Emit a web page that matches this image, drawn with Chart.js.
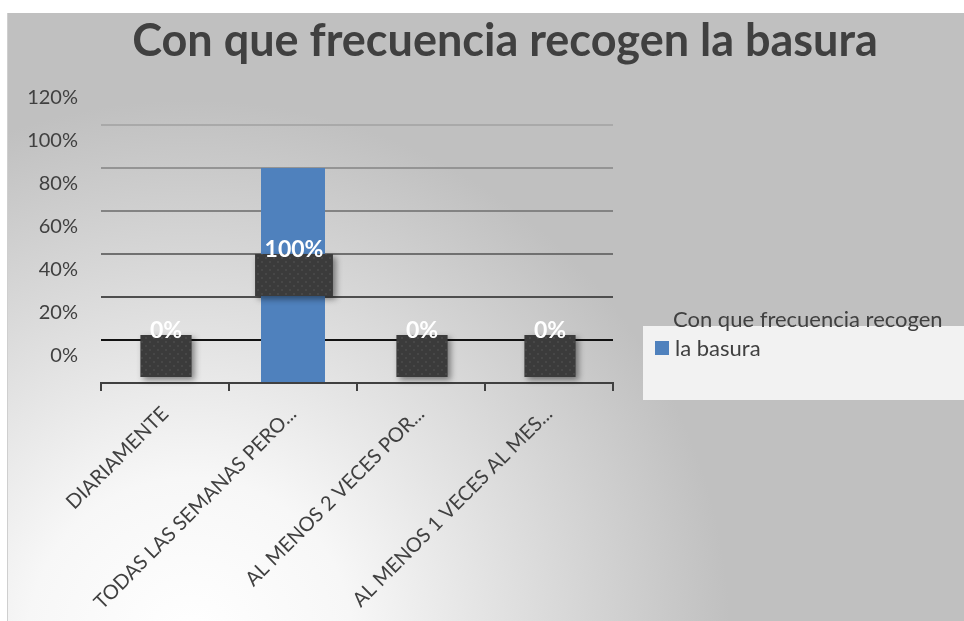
<!DOCTYPE html>
<html lang="es">
<head>
<meta charset="utf-8">
<title>Con que frecuencia recogen la basura</title>
<script src="https://cdn.jsdelivr.net/npm/chart.js@4.4.1/dist/chart.umd.min.js"></script>
<style>
  html, body { margin: 0; padding: 0; background: #fff; }
  canvas { display: block; }
</style>
</head>
<body>
<canvas id="graficoBasura" width="964" height="621"></canvas>
<script>
// Resultados de la encuesta
const categorias = ['DIARIAMENTE', 'TODAS LAS SEMANAS PERO...', 'AL MENOS 2 VECES POR...', 'AL MENOS 1 VECES AL MES...'];
const porcentajes = [0, 100, 0, 0];
const marcasEje = [0, 20, 40, 60, 80, 100, 120];
const tituloGrafico = 'Con que frecuencia recogen la basura';
const nombreSerie = 'Con que frecuencia recogen la basura';

const grisTexto = '#404040';
const azulBarra = '#4f81bd';
// color de cada linea horizontal, de abajo hacia arriba
const coloresRejilla = ['rgba(0,0,0,0)', '#121212', '#4e4e4e', '#707070', '#838383', '#949494', '#a9a9a9'];

// fondo gris con zona clara abajo a la izquierda
const fondo = {
  id: 'fondo',
  beforeDraw(chart) {
    const ctx = chart.ctx;
    ctx.save();
    ctx.fillStyle = '#ffffff';
    ctx.fillRect(0, 0, chart.width, chart.height);
    const g = ctx.createRadialGradient(190, 640, 0, 190, 640, 540);
    g.addColorStop(0, '#ffffff');
    g.addColorStop(0.3, '#f7f7f7');
    g.addColorStop(1, '#c0c0c0');
    ctx.fillStyle = g;
    ctx.fillRect(8, 13, chart.width - 8, chart.height - 13);
    ctx.strokeStyle = '#cfcfcf';
    ctx.lineWidth = 1;
    ctx.beginPath();
    ctx.moveTo(7.5, 13);
    ctx.lineTo(7.5, chart.height);
    ctx.stroke();

    // titulo
    ctx.fillStyle = grisTexto;
    ctx.font = 'bold 45px Lato';
    ctx.textAlign = 'center';
    ctx.textBaseline = 'middle';
    ctx.fillText(tituloGrafico, 505, 41);
    ctx.restore();
  }
};

// textura oscura para las cajas de las etiquetas
function crearTextura(ctx) {
  const c = document.createElement('canvas');
  c.width = 8; c.height = 8;
  const t = c.getContext('2d');
  t.fillStyle = '#3b3b3b';
  t.fillRect(0, 0, 8, 8);
  t.fillStyle = '#474747';
  t.fillRect(1, 1, 2, 2);
  t.fillRect(5, 5, 2, 2);
  return ctx.createPattern(c, 'repeat');
}

// etiquetas de datos en caja oscura
const etiquetas = {
  id: 'etiquetas',
  afterDatasetsDraw(chart) {
    const ctx = chart.ctx;
    const meta = chart.getDatasetMeta(0);
    const textura = crearTextura(ctx);
    ctx.save();
    ctx.font = 'bold 23px Lato';
    meta.data.forEach((barra, i) => {
      const texto = porcentajes[i] + '%';
      const ancho = ctx.measureText(texto).width + 19;
      const alto = 42;
      const cy = Math.min((barra.y + barra.base) / 2, barra.base - 27);
      const x0 = barra.x + 1 - ancho / 2;
      const y0 = cy - alto / 2;
      ctx.save();
      ctx.shadowColor = 'rgba(0,0,0,0.45)';
      ctx.shadowBlur = 6;
      ctx.shadowOffsetX = 3;
      ctx.shadowOffsetY = 3;
      ctx.fillStyle = textura;
      ctx.fillRect(x0, y0, ancho, alto);
      ctx.restore();
      ctx.fillStyle = '#ffffff';
      ctx.textAlign = 'center';
      ctx.textBaseline = 'middle';
      ctx.fillText(texto, barra.x + 1, y0 - 4);
    });
    ctx.restore();
  }
};

// leyenda a la derecha
const leyenda = {
  id: 'leyenda',
  afterDraw(chart) {
    const ctx = chart.ctx;
    const palabras = chart.data.datasets[0].label.split(' ');
    const linea1 = palabras.slice(0, -2).join(' ');
    const linea2 = palabras.slice(-2).join(' ');
    ctx.save();
    ctx.fillStyle = '#f2f2f2';
    ctx.fillRect(643, 326, 321, 74);
    ctx.font = '22px Lato';
    ctx.textBaseline = 'middle';
    ctx.textAlign = 'left';
    ctx.fillStyle = grisTexto;
    ctx.fillText(linea1, 673, 320);
    ctx.fillText(linea2, 675, 349);
    ctx.fillStyle = chart.data.datasets[0].backgroundColor;
    ctx.fillRect(655, 341, 14, 14);
    ctx.restore();
  }
};

new Chart(document.getElementById('graficoBasura'), {
  type: 'bar',
  data: {
    labels: categorias,
    datasets: [{
      label: nombreSerie,
      data: porcentajes,
      backgroundColor: azulBarra,
      barPercentage: 0.5,
      categoryPercentage: 1
    }]
  },
  options: {
    responsive: false,
    animation: false,
    devicePixelRatio: 1,
    layout: { padding: { top: 125, left: 8, right: 351, bottom: 0 } },
    plugins: {
      legend: { display: false },
      title: { display: false },
      tooltip: { enabled: false }
    },
    scales: {
      x: {
        grid: { drawOnChartArea: false, drawTicks: true, tickLength: 8, color: grisTexto, lineWidth: 2, offset: true },
        border: { color: grisTexto, width: 2 },
        ticks: {
          color: grisTexto,
          font: { family: 'Lato', size: 20 },
          minRotation: 45,
          maxRotation: 45,
          autoSkip: false,
          padding: 11
        },
        afterFit(s) { s.height = 238; }
      },
      y: {
        min: 0,
        max: 120,
        afterBuildTicks(s) { s.ticks = marcasEje.map(v => ({ value: v })); },
        grid: { color: c => coloresRejilla[c.index], lineWidth: 2, drawTicks: false },
        border: { display: false },
        ticks: {
          color: grisTexto,
          font: { family: 'Lato', size: 20 },
          padding: 23,
          labelOffset: -27,
          callback: v => v + '%'
        },
        afterFit(s) { s.width = 93; }
      }
    }
  },
  plugins: [fondo, etiquetas, leyenda]
});
</script>
</body>
</html>
